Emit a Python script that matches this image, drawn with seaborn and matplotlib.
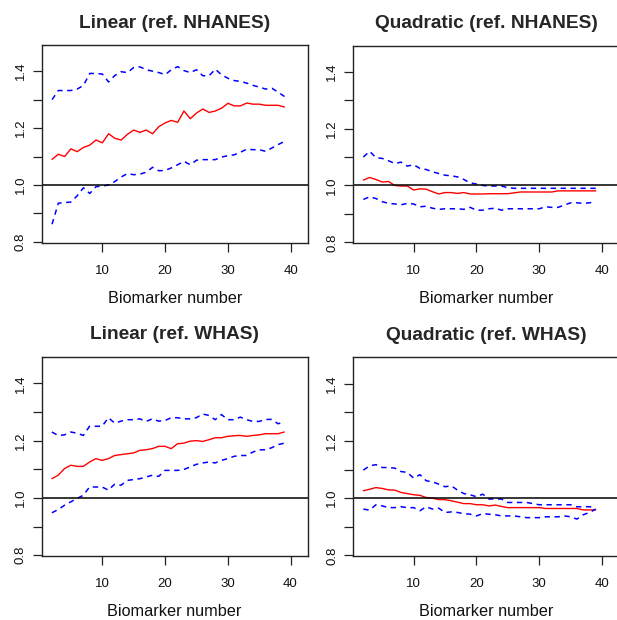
import numpy as np
import pandas as pd
import matplotlib
matplotlib.use("Agg")
import matplotlib.pyplot as plt
import seaborn as sns

# ========= DATA =========
biomarker = list(range(2, 40))

lin_nhanes_est = [1.090, 1.108, 1.100, 1.127, 1.117, 1.132, 1.140, 1.158, 1.148, 1.180,
                  1.164, 1.158, 1.178, 1.193, 1.185, 1.193, 1.180, 1.205, 1.218, 1.227,
                  1.220, 1.260, 1.233, 1.253, 1.267, 1.255, 1.260, 1.270, 1.287, 1.278,
                  1.278, 1.288, 1.284, 1.284, 1.280, 1.280, 1.280, 1.274]
lin_nhanes_hi = [1.300, 1.332, 1.332, 1.332, 1.337, 1.350, 1.392, 1.392, 1.390, 1.362,
                 1.385, 1.398, 1.395, 1.413, 1.415, 1.405, 1.400, 1.395, 1.388, 1.405,
                 1.416, 1.402, 1.395, 1.405, 1.384, 1.384, 1.407, 1.387, 1.375, 1.367,
                 1.364, 1.358, 1.350, 1.344, 1.337, 1.340, 1.326, 1.311]
lin_nhanes_lo = [0.862, 0.936, 0.938, 0.940, 0.962, 0.990, 0.970, 0.994, 0.996, 1.000,
                 1.012, 1.028, 1.040, 1.036, 1.038, 1.045, 1.062, 1.050, 1.051, 1.060,
                 1.071, 1.083, 1.071, 1.087, 1.089, 1.089, 1.089, 1.098, 1.103, 1.106,
                 1.115, 1.126, 1.124, 1.124, 1.118, 1.130, 1.142, 1.153]

quad_nhanes_est = [1.019, 1.028, 1.021, 1.012, 1.014, 1.000, 0.998, 0.998, 0.984, 0.988,
                   0.987, 0.978, 0.970, 0.975, 0.975, 0.972, 0.975, 0.970, 0.970, 0.970,
                   0.971, 0.971, 0.971, 0.971, 0.974, 0.977, 0.977, 0.977, 0.977, 0.977,
                   0.977, 0.981, 0.981, 0.981, 0.981, 0.981, 0.981, 0.981]
quad_nhanes_hi = [1.100, 1.120, 1.098, 1.095, 1.087, 1.077, 1.082, 1.068, 1.073, 1.060,
                  1.056, 1.048, 1.042, 1.036, 1.034, 1.030, 1.021, 1.009, 1.005, 1.000,
                  0.998, 0.998, 0.998, 0.992, 0.990, 0.990, 0.990, 0.990, 0.990, 0.990,
                  0.990, 0.990, 0.990, 0.990, 0.990, 0.990, 0.990, 0.990]
quad_nhanes_lo = [0.951, 0.960, 0.954, 0.943, 0.937, 0.935, 0.932, 0.937, 0.935, 0.925,
                  0.927, 0.920, 0.916, 0.918, 0.918, 0.918, 0.916, 0.923, 0.913, 0.913,
                  0.918, 0.920, 0.913, 0.918, 0.918, 0.918, 0.918, 0.918, 0.918, 0.925,
                  0.923, 0.923, 0.931, 0.939, 0.939, 0.937, 0.939, 0.943]

lin_whas_est = [1.067, 1.079, 1.102, 1.114, 1.110, 1.110, 1.125, 1.137, 1.131, 1.137,
                1.148, 1.151, 1.154, 1.157, 1.166, 1.168, 1.172, 1.180, 1.180, 1.172,
                1.189, 1.191, 1.198, 1.200, 1.197, 1.203, 1.210, 1.210, 1.215, 1.217,
                1.218, 1.215, 1.218, 1.220, 1.224, 1.224, 1.224, 1.230]
lin_whas_hi = [1.230, 1.218, 1.220, 1.230, 1.226, 1.218, 1.250, 1.250, 1.250, 1.280,
               1.261, 1.268, 1.273, 1.273, 1.276, 1.267, 1.276, 1.268, 1.270, 1.280,
               1.280, 1.276, 1.276, 1.280, 1.293, 1.288, 1.273, 1.291, 1.273, 1.273,
               1.282, 1.273, 1.267, 1.267, 1.274, 1.274, 1.259, 1.264]
lin_whas_lo = [0.948, 0.959, 0.974, 0.986, 0.998, 1.009, 1.038, 1.038, 1.038, 1.027,
               1.048, 1.044, 1.061, 1.064, 1.067, 1.073, 1.079, 1.075, 1.096, 1.096,
               1.096, 1.099, 1.108, 1.117, 1.122, 1.125, 1.122, 1.131, 1.137, 1.145,
               1.148, 1.148, 1.160, 1.168, 1.168, 1.175, 1.186, 1.191]

quad_whas_est = [1.026, 1.031, 1.037, 1.034, 1.029, 1.028, 1.020, 1.016, 1.012, 1.010,
                 1.002, 1.000, 0.995, 0.995, 0.991, 0.986, 0.981, 0.981, 0.977, 0.977,
                 0.973, 0.976, 0.971, 0.967, 0.967, 0.967, 0.967, 0.967, 0.967, 0.964,
                 0.964, 0.964, 0.964, 0.964, 0.964, 0.959, 0.959, 0.959]
quad_whas_hi = [1.098, 1.113, 1.117, 1.107, 1.107, 1.105, 1.093, 1.090, 1.070, 1.082,
                1.061, 1.057, 1.049, 1.040, 1.043, 1.028, 1.016, 1.012, 1.005, 1.014,
                0.997, 0.997, 0.997, 0.985, 0.985, 0.985, 0.985, 0.981, 0.977, 0.977,
                0.977, 0.977, 0.977, 0.977, 0.970, 0.970, 0.970, 0.967]
quad_whas_lo = [0.962, 0.958, 0.977, 0.973, 0.967, 0.967, 0.970, 0.967, 0.967, 0.956,
                0.970, 0.962, 0.965, 0.950, 0.952, 0.950, 0.946, 0.944, 0.938, 0.946,
                0.944, 0.942, 0.938, 0.938, 0.938, 0.935, 0.932, 0.932, 0.932, 0.935,
                0.935, 0.935, 0.938, 0.935, 0.927, 0.942, 0.950, 0.962]

titles = ["Linear (ref. NHANES)", "Quadratic (ref. NHANES)",
          "Linear (ref. WHAS)", "Quadratic (ref. WHAS)"]
panels = [
    (lin_nhanes_est, lin_nhanes_lo, lin_nhanes_hi),
    (quad_nhanes_est, quad_nhanes_lo, quad_nhanes_hi),
    (lin_whas_est, lin_whas_lo, lin_whas_hi),
    (quad_whas_est, quad_whas_lo, quad_whas_hi),
]

# ========= STYLE =========
sns.set_style("ticks")
plt.rcParams["font.family"] = ["Liberation Sans", "DejaVu Sans"]

W, H = 617, 620
fig = plt.figure(figsize=(W / 100, H / 100), dpi=100)

# axes boxes in pixels: left, top, right, bottom
boxes = [(41.7, 45, 307.7, 242.7), (353, 45.5, 619, 243.2),
         (41.5, 357, 307.5, 556), (353, 357.3, 619, 556.3)]

for (l, t, r, b), title, (est, lo, hi) in zip(boxes, titles, panels):
    ax = fig.add_axes([l / W, 1 - b / H, (r - l) / W, (b - t) / H])
    df = pd.DataFrame({"x": biomarker, "est": est, "lo": lo, "hi": hi})
    sns.lineplot(data=df, x="x", y="est", color="#ff0000", lw=1.0, ax=ax)
    sns.lineplot(data=df, x="x", y="hi", color="#0000ff", lw=1.1,
                 linestyle=(0, (3.5, 3)), ax=ax)
    sns.lineplot(data=df, x="x", y="lo", color="#0000ff", lw=1.1,
                 linestyle=(0, (3.5, 3)), ax=ax)
    ax.axhline(1.0, color="black", lw=1.1)

    ax.set_xlim(0.35, 42.7)
    ax.set_ylim(0.797, 1.492)
    ax.set_xticks([10, 20, 30, 40])
    ax.set_yticks([0.8, 0.9, 1.0, 1.1, 1.2, 1.3, 1.4])
    ax.set_yticklabels(["0.8", "", "1.0", "", "1.2", "", "1.4"],
                       rotation=90, va="center")
    ax.tick_params(axis="both", length=6.2, width=0.9, labelsize=9.5,
                   color="#222222", labelcolor="#111111")
    ax.tick_params(axis="x", pad=9.5)
    ax.tick_params(axis="y", pad=4.5)
    for s in ax.spines.values():
        s.set_visible(True)
        s.set_color("#222222")
        s.set_linewidth(1.0)

    ax.set_ylabel("")
    ax.set_xlabel("Biomarker number", fontsize=11.7, color="#111111")
    ax.xaxis.label.set_va("center")
    ax.xaxis.set_label_coords(0.5, -55.5 / (b - t))
    ax.text(0.5, 1 + 22 / (b - t), title, transform=ax.transAxes,
            ha="center", va="center", fontsize=13.8, fontweight="bold")

fig.savefig("out.png", dpi=100)
